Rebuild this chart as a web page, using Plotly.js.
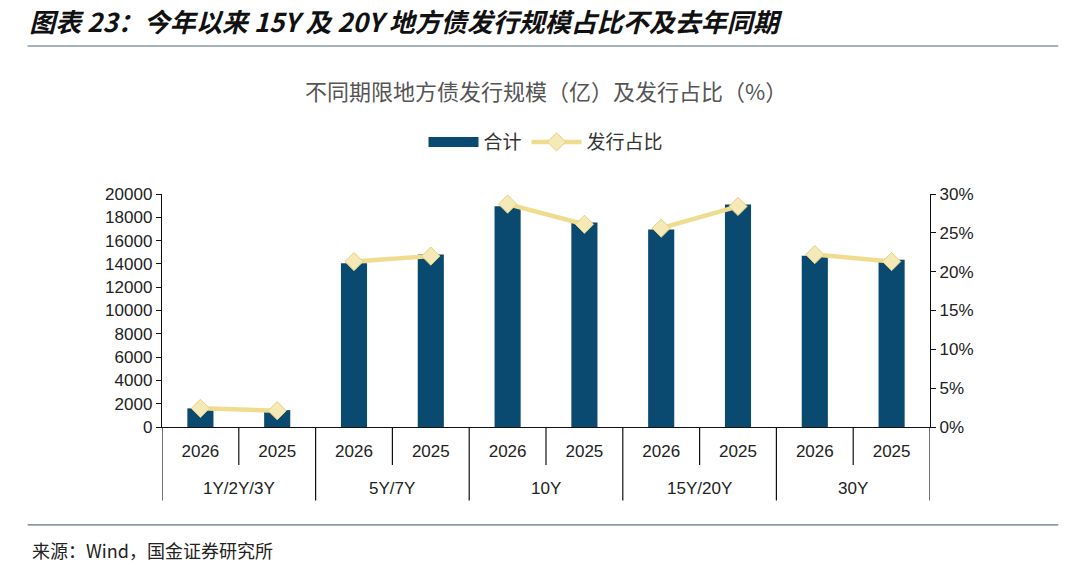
<!DOCTYPE html>
<html>
<head>
<meta charset="utf-8">
<script src="https://cdn.plot.ly/plotly-3.0.1.min.js"></script>
<style>
  html, body { margin: 0; padding: 0; background: #fff; }
  #chart { width: 1080px; height: 570px; }
</style>
</head>
<body>
<div id="chart"></div>
<script>
// 期限分组与年份
var groups = ['1Y/2Y/3Y', '5Y/7Y', '10Y', '15Y/20Y', '30Y'];
var years = ['2026', '2025'];

// 发行规模（亿），按 groups x years 顺序
var amount = [1600, 1450, 14050, 14800, 18950, 17550, 16950, 19100, 14700, 14350];
// 发行占比
var share = [0.024, 0.021, 0.213, 0.220, 0.287, 0.261, 0.256, 0.284, 0.222, 0.213];

var barColor = '#0b4a70';
var cjk = '"Noto Sans CJK SC", "Noto Sans", sans-serif';
var latin = '"Liberation Sans", Arial, sans-serif';

// 类别键（唯一），刻度文字显示年份
var cats = [], yearText = [];
groups.forEach(function(g) {
    years.forEach(function(y) {
        cats.push(g + ' ' + y);
        yearText.push(y);
    });
});

var data = [{
    type: 'bar',
    name: '合计',
    x: cats,
    y: amount,
    marker: { color: barColor },
    showlegend: false,
    hoverinfo: 'skip'
}, {
    // 只用于图例：宽色块（不画任何点）
    type: 'scatter',
    mode: 'lines',
    name: '合计',
    x: [cats[0]], y: [null],
    line: { color: barColor, width: 18 },
    hoverinfo: 'skip'
}];

// 占比折线只在同一期限内相连
groups.forEach(function(g, gi) {
    var n = years.length;
    data.push({
        type: 'scatter',
        mode: 'lines+markers',
        name: '发行占比',
        legendgroup: 'share',
        showlegend: gi === 0,
        x: cats.slice(gi * n, gi * n + n),
        y: share.slice(gi * n, gi * n + n),
        yaxis: 'y2',
        line: { color: '#f0dc8e', width: 4.5 },
        marker: { symbol: 'diamond', size: 14, color: '#f6e9b8', line: { color: '#e6d07c', width: 1 } },
        hoverinfo: 'skip'
    });
});

var nCat = cats.length;
var shapes = [{
    type: 'line', xref: 'paper', yref: 'paper',
    x0: -0.175, x1: 1.167, y0: 1.635, y1: 1.635,
    line: { color: '#8a9aa6', width: 1.5 }
}, {
    type: 'line', xref: 'paper', yref: 'paper',
    x0: -0.175, x1: 1.167, y0: -0.42, y1: -0.42,
    line: { color: '#5f7486', width: 1.2 }
}];
// 年份之间的短刻度和期限之间的分隔线
for (var b = 0; b <= nCat; b++) {
    var isGroupEdge = b % years.length === 0;
    shapes.push({
        type: 'line', xref: 'x', yref: 'paper',
        x0: b - 0.5, x1: b - 0.5, y0: 0, y1: isGroupEdge ? -0.315 : -0.163,
        line: { color: '#111', width: 1.2 }
    });
}

var annotations = [{
    text: '不同期限地方债发行规模（亿）及发行占比（%）',
    xref: 'paper', yref: 'paper', x: 0.5, y: 1.446,
    xanchor: 'center', yanchor: 'middle', showarrow: false,
    font: { family: cjk, size: 22, color: '#555' }
}, {
    text: '来源：Wind，国金证券研究所',
    xref: 'paper', yref: 'paper', x: -0.172, y: -0.53,
    xanchor: 'left', yanchor: 'middle', showarrow: false,
    font: { family: cjk, size: 18, color: '#222' }
}];
groups.forEach(function(g, gi) {
    annotations.push({
        text: g,
        xref: 'x', yref: 'paper', x: gi * years.length + (years.length - 1) / 2, y: -0.262,
        xanchor: 'center', yanchor: 'middle', showarrow: false,
        font: { family: latin, size: 17, color: '#222' }
    });
});

var layout = {
    width: 1080,
    height: 570,
    margin: { l: 162, r: 150, t: 194, b: 143 },
    paper_bgcolor: '#fff',
    plot_bgcolor: '#fff',
    font: { family: latin, color: '#222', size: 17 },
    bargap: 0.66,
    showlegend: true,
    title: {
        text: '<b><i>图表 23：今年以来 15Y 及 20Y 地方债发行规模占比不及去年同期</i></b>',
        font: { family: cjk, size: 26, color: '#111' },
        x: 0.027, xref: 'container', xanchor: 'left',
        y: 0.96, yref: 'container', yanchor: 'middle'
    },
    legend: {
        orientation: 'h',
        x: 0.5, xanchor: 'center',
        y: 1.223, yanchor: 'middle',
        font: { family: cjk, size: 19, color: '#333' },
        itemwidth: 50
    },
    xaxis: {
        type: 'category',
        range: [-0.5, nCat - 0.5],
        tickmode: 'array', tickvals: cats, ticktext: yearText,
        showline: true, linecolor: '#111', linewidth: 1.2,
        ticks: '', ticklabelstandoff: 8,
        tickfont: { family: latin, size: 17, color: '#222' },
        showgrid: false, zeroline: false
    },
    yaxis: {
        range: [0, 20000], dtick: 2000, tickformat: 'd',
        showline: true, linecolor: '#111', linewidth: 1.2,
        ticks: 'outside', ticklen: 5, tickcolor: '#111',
        tickfont: { family: latin, size: 17, color: '#222' },
        showgrid: false, zeroline: false
    },
    yaxis2: {
        overlaying: 'y', side: 'right',
        range: [0, 0.3], dtick: 0.05, tickformat: '.0%',
        showline: true, linecolor: '#111', linewidth: 1.2,
        ticks: 'outside', ticklen: 5, tickcolor: '#111',
        tickfont: { family: latin, size: 17, color: '#222' },
        showgrid: false, zeroline: false
    },
    annotations: annotations,
    shapes: shapes
};

Plotly.newPlot('chart', data, layout, { displayModeBar: false, staticPlot: true });
</script>
</body>
</html>
